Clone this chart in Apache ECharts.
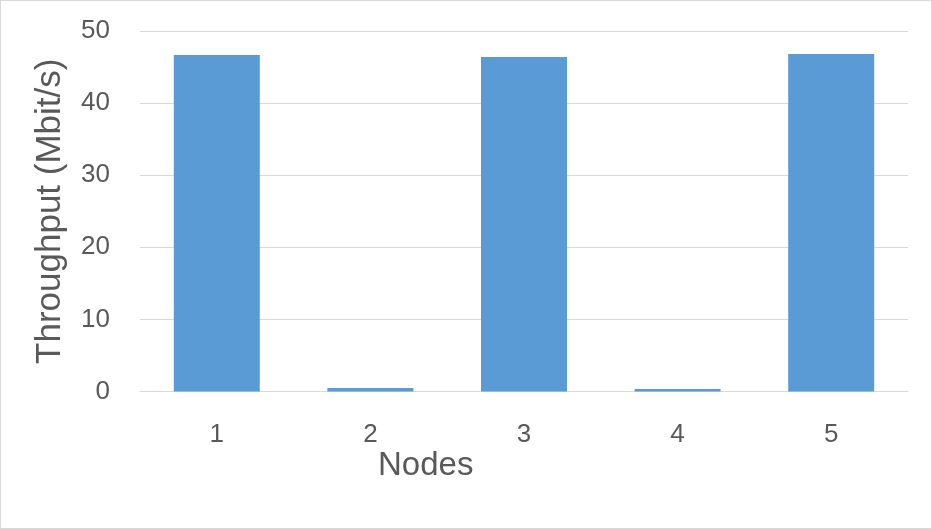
<!DOCTYPE html>
<html>
<head>
<meta charset="utf-8">
<script src="https://cdn.jsdelivr.net/npm/echarts@6/dist/echarts.min.js"></script>
<style>
html,body{margin:0;padding:0;background:#fff;}
#c{width:932px;height:529px;box-sizing:border-box;border:1px solid #d9d9d9;}
</style>
</head>
<body>
<div id="c"></div>
<script>
const categories = ['1', '2', '3', '4', '5'];
const throughput = [46.67, 0.49, 46.4, 0.35, 46.8];
const yTicks = [0, 10, 20, 30, 40, 50];

const FONT = 'Liberation Sans';
const chart = echarts.init(document.getElementById('c'), null, {renderer: 'canvas'});
chart.setOption({
  animation: false,
  backgroundColor: '#fff',
  title: {
    text: 'Nodes',
    left: 377,
    top: 448,
    padding: 0,
    textStyle: {color: '#595959', fontFamily: FONT, fontSize: 33, fontWeight: 'normal'}
  },
  grid: {left: 139, right: 23, top: 30, bottom: 136.5, containLabel: false},
  xAxis: {
    type: 'category',
    data: categories,
    axisLine: {show: true, lineStyle: {color: '#d9d9d9', width: 1}},
    axisTick: {show: false},
    axisLabel: {color: '#595959', fontFamily: FONT, fontSize: 26, margin: 30}
  },
  yAxis: {
    type: 'value',
    min: yTicks[0],
    max: yTicks[yTicks.length - 1],
    interval: 10,
    name: 'Throughput (Mbit/s)',
    nameLocation: 'middle',
    nameGap: 72,
    nameTextStyle: {color: '#595959', fontFamily: FONT, fontSize: 35},
    axisLine: {show: false},
    axisTick: {show: false},
    splitLine: {lineStyle: {color: '#d9d9d9', width: 1}},
    axisLabel: {color: '#595959', fontFamily: FONT, fontSize: 26, margin: 30}
  },
  series: [{
    type: 'bar',
    data: throughput,
    barWidth: '56%',
    itemStyle: {color: '#5b9bd5'}
  }]
});
</script>
</body>
</html>
